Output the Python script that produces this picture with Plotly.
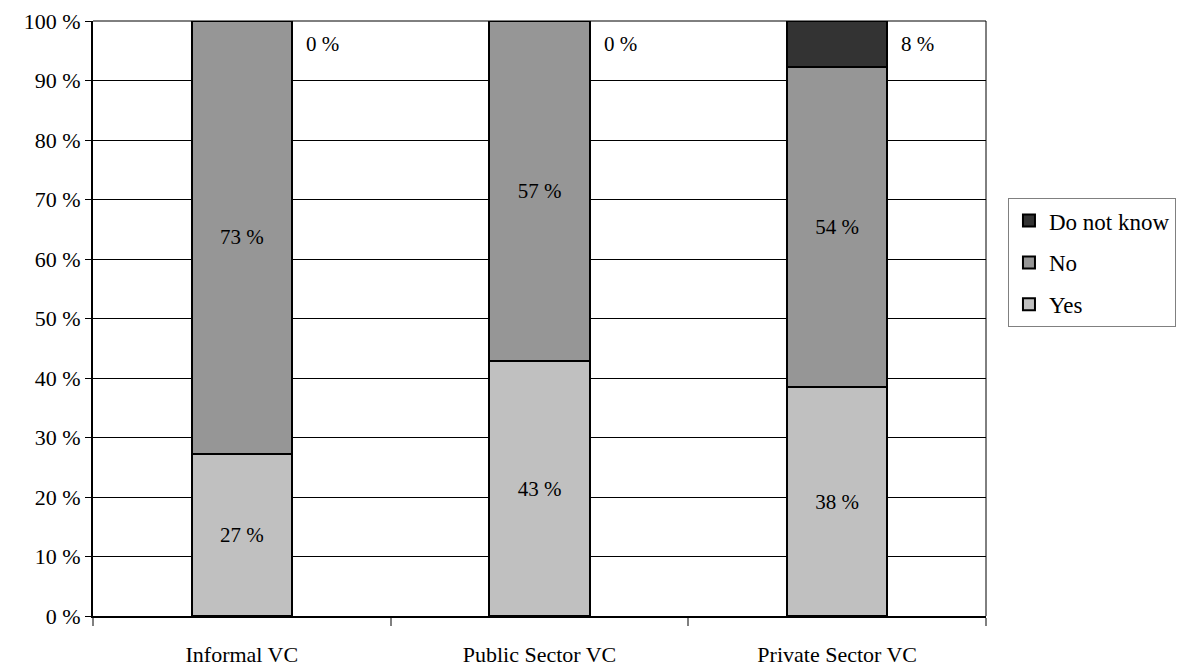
import plotly.graph_objects as go

categories = ["Informal VC", "Public Sector VC", "Private Sector VC"]
yes_vals = [100 * 3 / 11, 100 * 3 / 7, 100 * 5 / 13]
no_vals = [100 * 8 / 11, 100 * 4 / 7, 100 * 7 / 13]
dk_vals = [0.0, 0.0, 100 * 1 / 13]
y_ticks = list(range(0, 101, 10))

FONT = "Liberation Serif, Times New Roman, serif"
BAR_W = 0.336

fig = go.Figure()
series = [
    ("Yes", yes_vals, "#C0C0C0", True, 3),
    ("No", no_vals, "#969696", True, 2),
    ("Do not know", dk_vals, "#333333", False, 1),
]
for name, vals, color, inner, rank in series:
    fig.add_trace(go.Bar(
        x=categories, y=vals, name=name, legendgroup=name, legendrank=rank,
        marker=dict(color=color, line=dict(color="black", width=2)),
        width=BAR_W,
        text=[f"{round(v)} %" for v in vals] if inner else None,
        textposition="inside" if inner else "none",
        insidetextanchor="middle",
        textangle=0,
        insidetextfont=dict(family=FONT, size=21, color="black"),
        hoverinfo="skip",
    ))

# outside labels for "Do not know"
for c, v in zip(categories, dk_vals):
    fig.add_annotation(
        x=c, y=100, xref="x", yref="y",
        text=f"{round(v)} %", showarrow=False,
        xanchor="left", yanchor="top", xshift=BAR_W / 2 * 297.7 + 12, yshift=-9,
        font=dict(family=FONT, size=21, color="black"),
    )

fig.add_shape(type="line", xref="paper", yref="paper", x0=1, x1=1, y0=0, y1=1,
              line=dict(color="black", width=1))
fig.add_shape(type="line", xref="paper", yref="paper", x0=0, x1=1, y0=1, y1=1,
              line=dict(color="black", width=1))

fig.update_layout(
    width=1183, height=660,
    barmode="stack",
    plot_bgcolor="white", paper_bgcolor="white",
    margin=dict(l=85, r=205, t=13, b=52, autoexpand=False),
    font=dict(family=FONT, size=21, color="black"),
    showlegend=True,
    legend=dict(
        x=1.0246, xanchor="left", y=0.594, yanchor="middle",
        traceorder="grouped", tracegroupgap=9,
        bordercolor="#808080", borderwidth=1,
        font=dict(family=FONT, size=23, color="black"),
        bgcolor="white",
    ),
    uniformtext=dict(minsize=21, mode="show"),
)
fig.update_xaxes(
    automargin=False,
    showline=True, linecolor="black", linewidth=2,
    ticks="outside", tickson="boundaries", ticklen=8, tickcolor="#808080", tickwidth=2,
    ticklabelstandoff=18, ticklabeloverflow="allow",
    tickfont=dict(family=FONT, size=22, color="black"),
    showgrid=False,
)
fig.update_yaxes(
    automargin=False,
    range=[0, 100], tickvals=y_ticks, ticktext=[f"{t} %" for t in y_ticks],
    showline=True, linecolor="black", linewidth=2,
    ticks="outside", ticklen=6, tickcolor="black", ticklabeloverflow="allow",
    showgrid=True, gridcolor="black", gridwidth=1,
    tickfont=dict(family=FONT, size=22, color="black"),
    zeroline=False,
)

fig.write_html("out.html")
